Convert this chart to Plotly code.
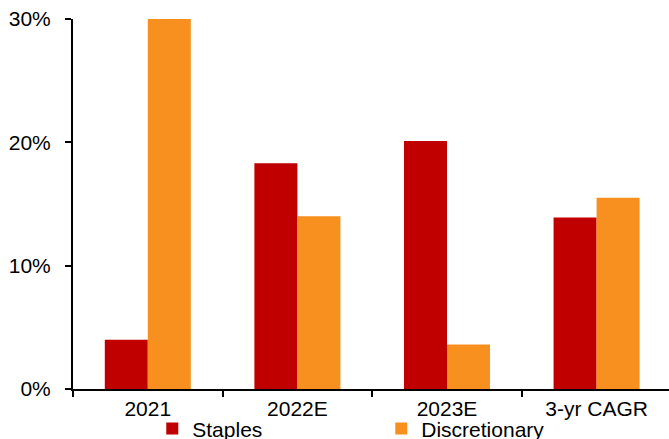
import plotly.graph_objects as go

categories = ["2021", "2022E", "2023E", "3-yr CAGR"]
staples = [4.0, 18.3, 20.1, 13.9]
discretionary = [30.0, 14.0, 3.6, 15.5]
y_ticks = [0, 10, 20, 30]
y_tick_labels = ["0%", "10%", "20%", "30%"]

FONT = "Liberation Sans, Arial, sans-serif"

fig = go.Figure()
fig.add_trace(go.Bar(name="Staples", x=categories, y=staples,
                     marker=dict(color="#C00000", line=dict(width=0))))
fig.add_trace(go.Bar(name="Discretionary", x=categories, y=discretionary,
                     marker=dict(color="#F8901F", line=dict(width=0))))

fig.update_layout(
    width=669, height=439,
    margin=dict(l=73, r=0, t=19, b=50, autoexpand=False),
    paper_bgcolor="white", plot_bgcolor="white",
    barmode="group", bargap=0.425, bargroupgap=0,
    font=dict(family=FONT, size=21, color="black"),
    showlegend=True,
    legend=dict(orientation="h", x=0.133, xanchor="left", y=-0.108, yanchor="middle",
                entrywidth=184, entrywidthmode="pixels",
                font=dict(family=FONT, size=21, color="black"),
                bgcolor="rgba(0,0,0,0)", traceorder="normal"),
    xaxis=dict(type="category", range=[-0.5, 3.484],
               showline=True, linecolor="black", linewidth=2,
               ticks="outside", ticklen=6, tickwidth=2, tickcolor="black",
               tickson="boundaries", showgrid=False, zeroline=False,
               tickfont=dict(family=FONT, size=21, color="black")),
    yaxis=dict(range=[0, 30], tickvals=y_ticks, ticktext=y_tick_labels,
               showline=True, linecolor="black", linewidth=2,
               ticks="outside", ticklen=6, tickwidth=2, tickcolor="black",
               showgrid=False, zeroline=False, ticklabelstandoff=10,
               tickfont=dict(family=FONT, size=21, color="black")),
)

fig.write_html("out.html")
